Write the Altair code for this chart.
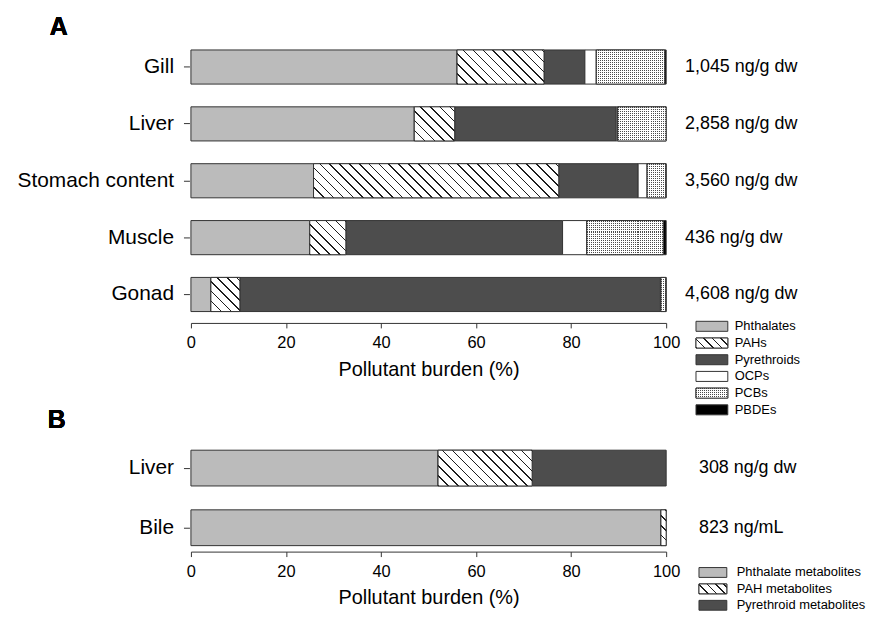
import math
import altair as alt
import pandas as pd

# ---------------- data ----------------
organs_A = ["Gill", "Liver", "Stomach content", "Muscle", "Gonad"]
classes_A = ["Phthalates", "PAHs", "Pyrethroids", "OCPs", "PCBs", "PBDEs"]
phthalates = [56.0, 47.0, 25.8, 25.0, 4.2]
pahs = [18.3, 8.5, 51.6, 7.6, 6.1]
pyrethroids = [8.6, 34.0, 16.7, 45.6, 88.5]
ocps = [2.4, 0.3, 1.9, 5.1, 0.1]
pcbs = [14.4, 10.2, 3.9, 16.1, 1.0]
pbdes = [0.3, 0.0, 0.1, 0.6, 0.1]
totals_A = ["1,045 ng/g dw", "2,858 ng/g dw", "3,560 ng/g dw", "436 ng/g dw", "4,608 ng/g dw"]

organs_B = ["Liver", "Bile"]
classes_B = ["Phthalate metabolites", "PAH metabolites", "Pyrethroid metabolites"]
phthalate_metabolites = [52.0, 98.9]
pah_metabolites = [19.8, 1.1]
pyrethroid_metabolites = [28.2, 0.0]
totals_B = ["308 ng/g dw", "823 ng/mL"]

x_ticks = [0, 20, 40, 60, 80, 100]
x_title = "Pollutant burden (%)"

# ---------------- style ----------------
FONT = "Liberation Sans"
INK = "#333333"
W = 478
H_A = 286
H_B = 108
flat_A = ["#bbbbbb", "#ffffff", "#4d4d4d", "#ffffff", "#ffffff", "#000000"]
flat_B = ["#bbbbbb", "#ffffff", "#4d4d4d"]


def hatch(w, h, spacing=7.0, lw=1.1, ink="#1e1e1e", paper="#ffffff"):
    t = (w + h) / (w * w + h * h)
    L = (w + h) / math.sqrt(2)
    stops = []
    k = 0
    while k * spacing / L < 1:
        a = k * spacing / L
        b = min((k * spacing + lw) / L, 1)
        c = min((k + 1) * spacing / L, 1)
        stops += [{"offset": a, "color": ink}, {"offset": b, "color": ink},
                  {"offset": b, "color": paper}, {"offset": c, "color": paper}]
        k += 1
    return {"gradient": "linear", "x1": 0, "y1": 1, "x2": t * w, "y2": 1 - t * h,
            "stops": stops}


def stripes(length, vertical, period=2.0, c1="#4a4a4a", c2="#ffffff"):
    stops = []
    k = 0
    while k * period / length < 1:
        a = k * period / length
        b = min((k + 0.5) * period / length, 1)
        c = min((k + 1) * period / length, 1)
        stops += [{"offset": a, "color": c1}, {"offset": b, "color": c1},
                  {"offset": b, "color": c2}, {"offset": c, "color": c2}]
        k += 1
    if vertical:
        return {"gradient": "linear", "x1": 0, "y1": 0, "x2": 0, "y2": 1, "stops": stops}
    return {"gradient": "linear", "x1": 0, "y1": 0, "x2": 1, "y2": 0, "stops": stops}


def stack(organs, classes, series):
    rows = []
    for i, o in enumerate(organs):
        s = 0.0
        for j, c in enumerate(classes):
            v = series[j][i]
            if v > 0:
                rows.append(dict(organ=o, cls=c, value=v, start=s, end=s + v, key=o + "|" + c))
            s += v
    return pd.DataFrame(rows)


def panel(organs, classes, series, totals, flat, hatched, dotted, height, pad_outer,
          total_dx, legend_range, legend_x, legend_tx, labels):
    df = stack(organs, classes, series)
    n = len(organs)
    step = height / (n - 0.4 + 2 * pad_outer)
    bar_h = 0.6 * step

    xscale = alt.Scale(domain=[0, 100], nice=False, zero=True)
    x_axis = alt.Axis(values=x_ticks, title=x_title, grid=False, domainColor=INK,
                      tickColor=INK, tickSize=5, labelFontSize=16.5, titleFontSize=20,
                      labelPadding=7, titlePadding=8, labelColor="black", titleColor="black",
                      titleFontWeight="normal", labelFlush=False, format="d")
    yscale = alt.Scale(domain=organs, paddingInner=0.4, paddingOuter=pad_outer)
    y_axis = alt.Axis(title=None, domain=False, ticks=True, tickSize=6, tickColor=INK,
                      labelFontSize=21, labelColor="black", labelPadding=10, offset=1.5)
    x_enc = alt.X("start:Q", scale=xscale, axis=x_axis)
    y_enc = alt.Y("organ:N", sort=organs, scale=yscale, axis=y_axis)
    cscale = alt.Scale(domain=classes, range=flat)

    base = alt.Chart(df)
    layers = [base.mark_bar(stroke=INK, strokeWidth=1).encode(
        x=x_enc, x2="end:Q", y=y_enc,
        color=alt.Color("cls:N", scale=cscale, legend=None))]

    for r in df[df.cls == hatched].itertuples():
        w = r.value / 100 * W
        layers.append(base.transform_filter(alt.datum.key == r.key)
                      .mark_bar(fill=hatch(w, bar_h), stroke=INK, strokeWidth=1)
                      .encode(x=x_enc, x2="end:Q", y=y_enc))
    if dotted:
        layers.append(base.transform_filter(alt.datum.cls == dotted)
                      .mark_bar(fill=stripes(bar_h, True), strokeWidth=0)
                      .encode(x=x_enc, x2="end:Q", y=y_enc))
        for r in df[df.cls == dotted].itertuples():
            w = r.value / 100 * W
            layers.append(base.transform_filter(alt.datum.key == r.key)
                          .mark_bar(fill=stripes(w, False, c1="rgba(255,255,255,0)"),
                                    stroke=INK, strokeWidth=1)
                          .encode(x=x_enc, x2="end:Q", y=y_enc))

    tdf = pd.DataFrame({"organ": organs, "total": totals})
    layers.append(alt.Chart(tdf).mark_text(align="left", baseline="middle", fontSize=18,
                                           dx=total_dx, color="black")
                  .encode(x=alt.datum(100), y=y_enc, text="total:N"))

    for txt, px, py in labels:
        layers.append(alt.Chart(tdf).mark_text(text=txt, fontSize=25, fontWeight="bold",
                                               align="center", baseline="middle",
                                               color="black")
                      .encode(x=alt.value(px), y=alt.value(py)))

    inner = alt.layer(*layers)

    ldf = pd.DataFrame({"cls": classes})
    ly = alt.Y("cls:N", sort=classes, axis=None,
               scale=alt.Scale(domain=classes, range=legend_range, paddingInner=0.4,
                               paddingOuter=0.2))
    lx0, lx1 = legend_x
    sw_w = lx1 - lx0
    sw_h = 0.6 * (legend_range[1] - legend_range[0]) / len(classes)
    leg = [alt.Chart(ldf).mark_rect(stroke=INK, strokeWidth=1).encode(
        x=alt.value(lx0), x2=alt.value(lx1), y=ly,
        color=alt.Color("cls:N", scale=cscale, legend=None))]
    leg.append(alt.Chart(ldf).transform_filter(alt.datum.cls == hatched)
               .mark_rect(fill=hatch(sw_w, sw_h, spacing=6.0), stroke=INK, strokeWidth=1)
               .encode(x=alt.value(lx0), x2=alt.value(lx1), y=ly))
    if dotted:
        leg.append(alt.Chart(ldf).transform_filter(alt.datum.cls == dotted)
                   .mark_rect(fill=stripes(sw_h, True), strokeWidth=0)
                   .encode(x=alt.value(lx0), x2=alt.value(lx1), y=ly))
        leg.append(alt.Chart(ldf).transform_filter(alt.datum.cls == dotted)
                   .mark_rect(fill=stripes(sw_w, False, c1="rgba(255,255,255,0)"),
                              stroke=INK, strokeWidth=1)
                   .encode(x=alt.value(lx0), x2=alt.value(lx1), y=ly))
    leg.append(alt.Chart(ldf).mark_text(align="left", baseline="middle", fontSize=13,
                                        color="black")
               .encode(x=alt.value(legend_tx), y=ly, text="cls:N"))

    return alt.layer(inner, *leg).resolve_scale(y="independent").properties(
        width=W, height=height)


panel_A = panel(organs_A, classes_A, [phthalates, pahs, pyrethroids, ocps, pcbs, pbdes],
                totals_A, flat_A, "PAHs", "PCBs", H_A, 0.2, 19,
                [281, 381.8], (508, 540), 547,
                [("A", -133, -12), ("B", -135, 384)])

panel_B = panel(organs_B, classes_B,
                [phthalate_metabolites, pah_metabolites, pyrethroid_metabolites],
                totals_B, flat_B, "PAH metabolites", None, H_B, 0.1, 33,
                [120.75, 170.25], (511, 539), 549, [])

chart = (alt.vconcat(panel_A, panel_B, spacing=11)
         .properties(padding={"left": 8, "top": 5, "right": 0, "bottom": 0},
                     background="white")
         .configure(font=FONT)
         .configure_view(stroke=None))

chart.save("out.html", embed_options={"renderer": "svg", "actions": False})
